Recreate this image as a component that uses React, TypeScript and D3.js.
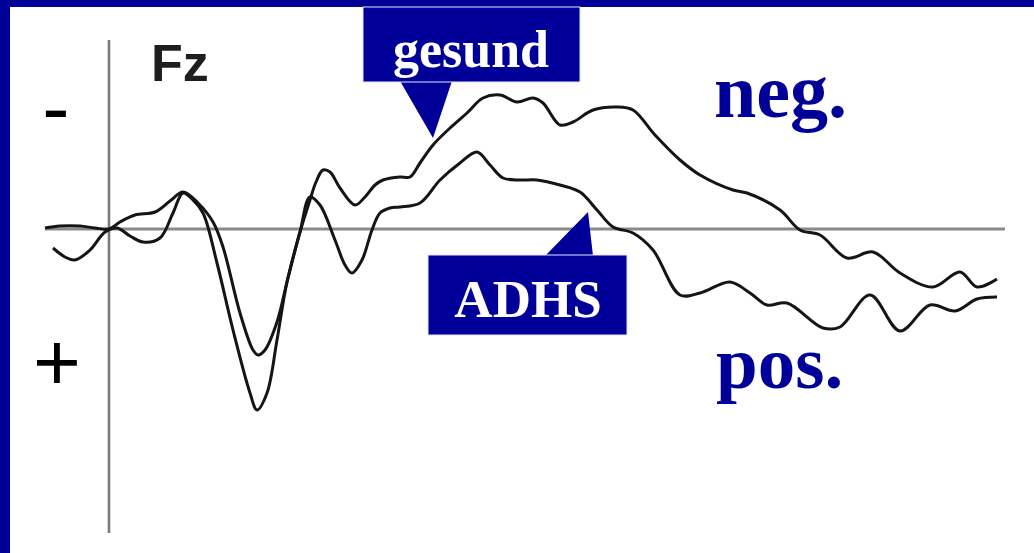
import React from "react";
import * as d3 from "d3";

// Fz event-related potential, time in ms, amplitude in µV (negative plotted upward)
const gesundT = [-64, -49, -29, -14, 0, 11, 26, 46, 61, 74, 89, 104, 114, 131, 144, 149, 156, 168, 178, 191, 201, 207, 214, 221, 231, 246, 256, 266, 274, 291, 301, 311, 324, 341, 358, 374, 391, 408, 424, 434, 451, 464, 484, 508, 524, 546, 571, 591, 624, 638, 671, 691, 711, 738, 764, 791, 824, 851, 868, 888];
const gesundV = [-0.1, -0.3, -0.3, -0.1, 0, -0.7, -1.4, -1.7, -2.8, -3.7, -2.6, -0.7, 1.8, 8.4, 12.1, 12.6, 12.1, 9.3, 5.3, 0.3, -2.9, -4.7, -5.9, -5.7, -4.1, -2.4, -3.2, -4.4, -4.9, -5.2, -5.2, -6.6, -8.4, -10.1, -11.6, -13.1, -13.4, -12.7, -13.1, -12.6, -10.4, -10.7, -11.9, -12.2, -11.9, -9.4, -6.9, -5.4, -3.9, -3.6, -1.9, 0.1, 0.6, 2.9, 2.3, 4.4, 5.8, 4.3, 5.8, 5.0];

const adhsT = [-56, -44, -34, -19, -4, 8, 21, 34, 51, 64, 74, 84, 94, 108, 124, 141, 148, 158, 168, 178, 191, 201, 211, 226, 236, 243, 253, 263, 271, 281, 291, 311, 331, 351, 368, 381, 394, 411, 428, 451, 471, 488, 504, 524, 544, 571, 591, 621, 641, 658, 678, 714, 731, 761, 791, 821, 846, 868, 888];
const adhsV = [1.9, 2.8, 3.1, 2.1, 0.3, -0.1, 0.7, 1.3, 0.9, -1.6, -3.6, -2.9, -1.6, 3.4, 10.1, 16.4, 18.1, 16.4, 11.1, 5.3, 0.3, -3.2, -2.4, 1.1, 3.6, 4.4, 3.1, 0.1, -1.6, -2.1, -2.2, -2.6, -4.9, -6.6, -7.7, -6.4, -5.1, -4.9, -4.9, -4.4, -3.7, -1.9, -0.2, 0.4, 2.1, 6.6, 6.4, 5.3, 6.4, 7.6, 7.4, 9.9, 9.8, 6.6, 10.2, 7.6, 8.2, 7.0, 6.8];

const seriesNames = ["gesund", "ADHS"];
const polarityLabels = ["neg.", "pos."];
const polaritySigns = ["-", "+"];
const channelName = "Fz";

const W = 1034;
const H = 553;
const BLUE = "#000099";

export default function App() {
  const x = d3.scaleLinear().domain([-100, 900]).range([9, 1009]);
  const y = d3.scaleLinear().domain([-10, 10]).range([129, 329]);
  const line = d3
    .line<[number, number]>()
    .x((d) => x(d[0]))
    .y((d) => y(d[1]))
    .curve(d3.curveCatmullRom.alpha(0.5));

  const gesundPts = gesundT.map((t, i) => [t, gesundV[i]] as [number, number]);
  const adhsPts = adhsT.map((t, i) => [t, adhsV[i]] as [number, number]);

  const serif = "'Liberation Serif', 'Times New Roman', serif";
  const sans = "'Liberation Sans', Arial, sans-serif";

  return (
    <svg
      width={W}
      height={H}
      style={{ position: "absolute", left: 0, top: 0, background: "#fff" }}
    >
      <rect x={0} y={0} width={W} height={H} fill="#fff" />
      {/* border */}
      <rect x={0} y={0} width={W} height={7} fill={BLUE} />
      <rect x={0} y={0} width={10} height={H} fill={BLUE} />

      {/* axes */}
      <line x1={x(0)} x2={x(0)} y1={40} y2={533} stroke="#7a7a7a" strokeWidth={2.6} />
      <line x1={x(-64)} x2={x(896)} y1={y(0)} y2={y(0)} stroke="#8a8a8a" strokeWidth={3} />

      {/* traces */}
      <path d={line(adhsPts) || ""} fill="none" stroke="#151515" strokeWidth={3} strokeLinejoin="round" />
      <path d={line(gesundPts) || ""} fill="none" stroke="#151515" strokeWidth={3} strokeLinejoin="round" />

      {/* channel name */}
      <text x={151} y={81} fontFamily={sans} fontWeight="bold" fontSize={52} fill="#1e1e1e">
        {channelName}
      </text>

      {/* polarity signs */}
      <text x={56} y={136} fontFamily={sans} fontSize={82} textAnchor="middle" fill="#000">
        {polaritySigns[0]}
      </text>
      <text x={57} y={390} fontFamily={sans} fontSize={82} textAnchor="middle" fill="#000">
        {polaritySigns[1]}
      </text>

      {/* gesund callout */}
      <g>
        <polygon points="400,81 452,81 433,138" fill={BLUE} />
        <rect x={363} y={7} width={217} height={75} fill={BLUE} stroke="#e6e6ff" strokeWidth={1} />
        <text x={471} y={67} fontFamily={serif} fontWeight="bold" fontSize={52} textAnchor="middle" fill="#fff">
          {seriesNames[0]}
        </text>
      </g>

      {/* ADHS callout */}
      <g>
        <polygon points="545,256 593,256 588,212" fill={BLUE} />
        <rect x={428} y={255} width={199} height={80} fill={BLUE} stroke="#e6e6ff" strokeWidth={1} />
        <text x={528} y={317} fontFamily={serif} fontWeight="bold" fontSize={53} textAnchor="middle" fill="#fff">
          {seriesNames[1]}
        </text>
      </g>

      {/* polarity labels */}
      <text x={714} y={117} fontFamily={serif} fontWeight="bold" fontSize={76} fill={BLUE}>
        {polarityLabels[0]}
      </text>
      <text x={716} y={388} fontFamily={serif} fontWeight="bold" fontSize={75} fill={BLUE}>
        {polarityLabels[1]}
      </text>
    </svg>
  );
}
